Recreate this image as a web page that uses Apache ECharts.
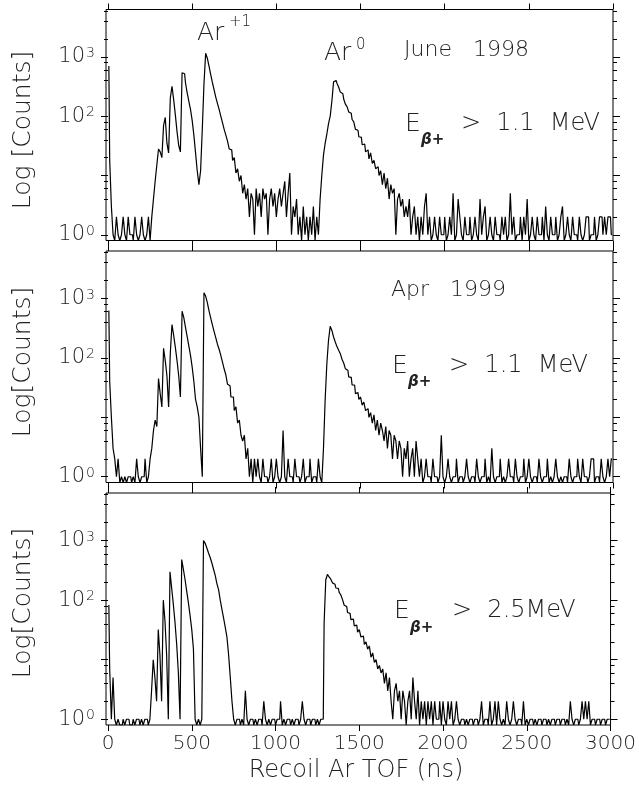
<!DOCTYPE html>
<html><head><meta charset="utf-8">
<script src="https://cdn.jsdelivr.net/npm/echarts@6/dist/echarts.min.js"></script>
<style>html,body{margin:0;padding:0;background:#fff}#c{width:639px;height:785px}</style>
</head><body><div id="c"></div>
<script>
// Histogram bin width (ns); bin i covers [i*BIN_NS, (i+1)*BIN_NS)
const BIN_NS = 10;

// June 1998, E_beta+ > 1.1 MeV  (counts per 10 ns bin, 0..2990 ns)
const juneCounts = [
 700,18,3,1,0,2,1,0,1,2,
 1,0,2,1,1,0,2,1,0,1,
 2,1,0,1,2,0,2,4,8,15,
 28,25,20,70,95,35,24,200,320,190,
 105,55,32,25,540,520,370,250,180,130,
 85,48,24,12,7,12,60,350,1150,950,
 700,500,370,280,210,165,130,100,78,60,
 48,38,28,27,18,20,11,13,8,10,
 5,7,4,6,2,5,4,1,6,3,
 5,2,6,4,5,1,4,6,3,5,
 2,4,6,3,5,8,2,5,11,1,
 3,2,4,1,2,0,3,1,2,0,
 2,1,3,0,2,1,4,10,22,35,
 50,75,100,180,380,400,360,310,255,240,
 195,160,145,118,112,88,80,60,58,45,
 44,33,34,25,27,19,24,16,18,13,
 14,10,12,7,11,6,9,4,7,5,
 6,1,4,5,3,4,2,3,2,4,
 1,2,3,1,2,0,2,1,3,5,
 1,2,0,1,2,1,0,2,1,1,
 2,0,1,2,1,5,0,1,4,2,
 1,0,2,1,1,2,0,1,2,1,
 0,4,1,2,3,0,1,2,1,0,
 2,1,1,0,2,1,2,0,1,5,
 1,2,0,1,1,2,0,2,1,4,
 0,1,2,1,0,2,1,1,2,0,
 3,1,0,2,1,1,2,0,1,2,
 3,0,1,2,1,0,2,1,1,0,
 2,1,0,1,2,2,0,1,1,2,
 0,1,2,2,1,2,1,2,2,1
];
// Apr 1999, E_beta+ > 1.1 MeV
const aprCounts = [
 630,40,10,3,2,1,2,0,1,0,
 1,0,1,1,0,1,0,2,1,0,
 1,1,2,0,1,2,3,6,9,7,
 45,25,15,145,90,50,15,120,365,240,
 150,90,50,22,610,480,330,230,160,110,
 70,40,20,15,10,3,1,1250,1100,850,
 620,470,360,280,220,170,140,110,85,65,
 52,36,34,22,22,13,15,8,9,5,
 4,5,2,3,1,2,0,2,1,2,
 1,0,2,1,1,0,1,2,0,1,
 2,1,0,1,6,1,0,2,1,1,
 0,2,1,1,0,1,2,0,1,1,
 2,0,1,1,0,2,1,0,3,20,
 80,200,340,290,225,185,155,135,118,95,
 82,66,62,48,47,35,35,25,26,20,
 22,16,18,13,14,10,12,8,11,6,
 9,5,8,6,4,7,3,6,5,2,
 5,4,2,4,3,1,3,2,4,1,
 2,3,1,4,2,1,2,0,1,2,
 1,1,0,2,1,1,0,1,5,1,
 0,1,2,1,0,1,1,2,0,1,
 1,0,1,2,1,0,1,1,0,2,
 1,0,1,1,2,0,1,0,3,1,
 0,1,1,2,0,1,0,1,2,1,
 1,0,2,1,0,1,1,2,0,1,
 2,1,0,1,1,0,2,1,0,1,
 1,2,0,1,0,1,2,1,0,1,
 0,1,1,0,2,1,0,1,1,2,
 1,0,2,1,1,0,1,2,2,0,
 1,1,0,2,1,0,1,2,1,2
];
// E_beta+ > 2.5 MeV
const hiCounts = [
 83,7,1,5,1,0,1,0,0,1,
 0,1,1,0,0,1,0,1,1,0,
 1,0,1,1,0,1,3,10,5,2,
 32,12,2,100,45,12,1,300,160,85,
 42,18,6,1,480,330,220,140,90,55,
 32,15,1,0,1,0,1,1000,900,750,
 620,520,420,330,260,190,150,100,70,50,
 35,24,12,5,2,1,0,1,1,0,
 1,0,3,1,0,1,1,0,1,0,
 1,1,0,2,1,0,1,0,1,1,
 0,1,1,2,0,1,0,1,1,0,
 1,0,1,1,0,1,2,1,0,1,
 1,0,1,1,0,1,0,1,1,40,
 220,270,245,225,195,185,160,158,135,122,
 102,82,78,62,60,47,48,37,38,29,
 32,24,25,18,20,15,17,11,13,9,
 10,7,8,6,7,4,6,3,5,2,
 1,3,4,2,3,1,3,2,0,2,
 3,1,5,2,1,3,0,2,1,2,
 0,2,1,2,0,2,1,1,2,0,
 2,1,0,2,1,2,0,1,2,1,
 0,1,1,0,1,0,1,1,0,1,
 1,0,1,2,0,1,1,0,2,0,
 1,2,0,2,1,0,1,0,2,1,
 0,1,2,1,0,1,1,0,2,0,
 1,0,1,1,0,1,0,1,1,0,
 1,1,0,1,0,1,1,0,1,1,
 0,1,1,0,1,0,2,1,0,1,
 1,0,1,2,1,2,1,2,0,1,
 1,0,1,1,0,1,1,0,1,1
];

const xTicks = [0,500,1000,1500,2000,2500,3000];
const yMajorTicks = [1,10,100,1000];
const yLabelValues = [1,100,1000];
const yMinorTicks = [2,4,6,8,20,40,60,80,200,400,600,800,2000,4000,6000];
const X_MIN = -12, X_MAX = 3000, Y_MIN = 0.8, Y_MAX = 6300;

const FONT = '"DejaVu Sans", sans-serif';
const INK = '#222';
const W = 200;

const panels = [
  {counts: juneCounts, top: 9.5, height: 231},
  {counts: aprCounts, top: 251, height: 231.5},
  {counts: hiCounts, top: 493, height: 232}
];

const grid = [], xAxis = [], yAxis = [], series = [];
panels.forEach((p, i) => {
  grid.push({left: 106, right: 26, top: p.top, height: p.height, show: true,
    borderColor: '#000', borderWidth: 1, backgroundColor: 'transparent'});
  ['bottom','top'].forEach(pos => {
    xAxis.push({gridIndex: i, type: 'value', min: X_MIN, max: X_MAX, position: pos,
      axisLine: {show: false}, splitLine: {show: false},
      axisTick: {show: true, customValues: xTicks, length: 6, inside: false, lineStyle: {color: '#000', width: 1}},
      axisLabel: {show: (i === 2 && pos === 'bottom'), customValues: xTicks, fontSize: 20,
        fontFamily: FONT, fontWeight: W, color: INK, margin: 9, formatter: v => String(v)}
    });
  });
  const yBase = i * 4;
  ['left','right'].forEach(pos => {
    yAxis.push({gridIndex: i, type: 'log', logBase: 10, min: Y_MIN, max: Y_MAX, position: pos,
      axisLine: {show: false}, splitLine: {show: false}, minorTick: {show: false},
      axisTick: {show: true, customValues: yMajorTicks, length: 7, lineStyle: {color: '#000'}},
      axisLabel: {show: pos === 'left', customValues: yLabelValues, margin: 11, fontSize: 21,
        fontFamily: FONT, fontWeight: W, color: INK,
        formatter: v => '10{s|' + Math.round(Math.log10(v)) + '}',
        rich: {s: {fontSize: 14, fontFamily: FONT, fontWeight: W, color: INK, verticalAlign: 'top', padding: [0,0,0,1]}}}
    });
    yAxis.push({gridIndex: i, type: 'log', logBase: 10, min: Y_MIN, max: Y_MAX, position: pos,
      axisLine: {show: false}, splitLine: {show: false},
      axisTick: {show: true, customValues: yMinorTicks, length: 4, lineStyle: {color: '#000'}},
      axisLabel: {show: false}
    });
  });
  series.push({type: 'line', xAxisIndex: i * 2, yAxisIndex: yBase, step: 'middle',
    showSymbol: false, symbol: 'none', animation: false, clip: true,
    lineStyle: {color: '#000', width: 1.2},
    data: p.counts.map((c, k) => [k * BIN_NS + BIN_NS / 2, Math.max(c, Y_MIN)])
  });
});

function txt(x, y, text, size, align) {
  return {type: 'text', x: x, y: y, silent: true,
    style: {text: text, font: W + ' ' + size + 'px ' + FONT, fill: INK, align: align || 'left', verticalAlign: 'middle'}};
}
function rtxt(x, y, text, size) {
  return {type: 'text', x: x, y: y, rotation: Math.PI / 2, silent: true,
    style: {text: text, font: W + ' ' + size + 'px ' + FONT, fill: INK, align: 'center', verticalAlign: 'middle'}};
}
function sub(x, y, text) {
  return {type: 'text', x: x, y: y, silent: true,
    style: {text: text, font: 'italic bold 15px ' + FONT, fill: INK, align: 'left', verticalAlign: 'middle'}};
}

const graphic = [
  // panel 1
  txt(197, 33, 'Ar', 25), txt(229, 22, '+1', 15),
  txt(324, 53, 'Ar', 25), txt(356, 45, '0', 15),
  txt(404, 50, 'June   1998', 22),
  txt(405, 124, 'E', 25), sub(421, 140, 'β+'), txt(461, 124, '>  1.1  MeV', 24),
  // panel 2
  txt(391, 290, 'Apr   1999', 22),
  txt(392, 366, 'E', 25), sub(408, 382, 'β+'), txt(449, 366, '>  1.1  MeV', 24),
  // panel 3
  txt(394, 611, 'E', 25), sub(410, 628, 'β+'), txt(452, 611, '>  2.5MeV', 24),
  // axis titles
  rtxt(23, 130, 'Log [Counts]', 25),
  rtxt(23, 362, 'Log[Counts]', 25),
  rtxt(23, 603, 'Log[Counts]', 25),
  txt(356, 771, 'Recoil Ar TOF (ns)', 24, 'center')
];

const chart = echarts.init(document.getElementById('c'), null, {renderer: 'canvas'});
chart.setOption({animation: false, backgroundColor: '#fff', grid, xAxis, yAxis, series, graphic});
</script>
</body></html>
